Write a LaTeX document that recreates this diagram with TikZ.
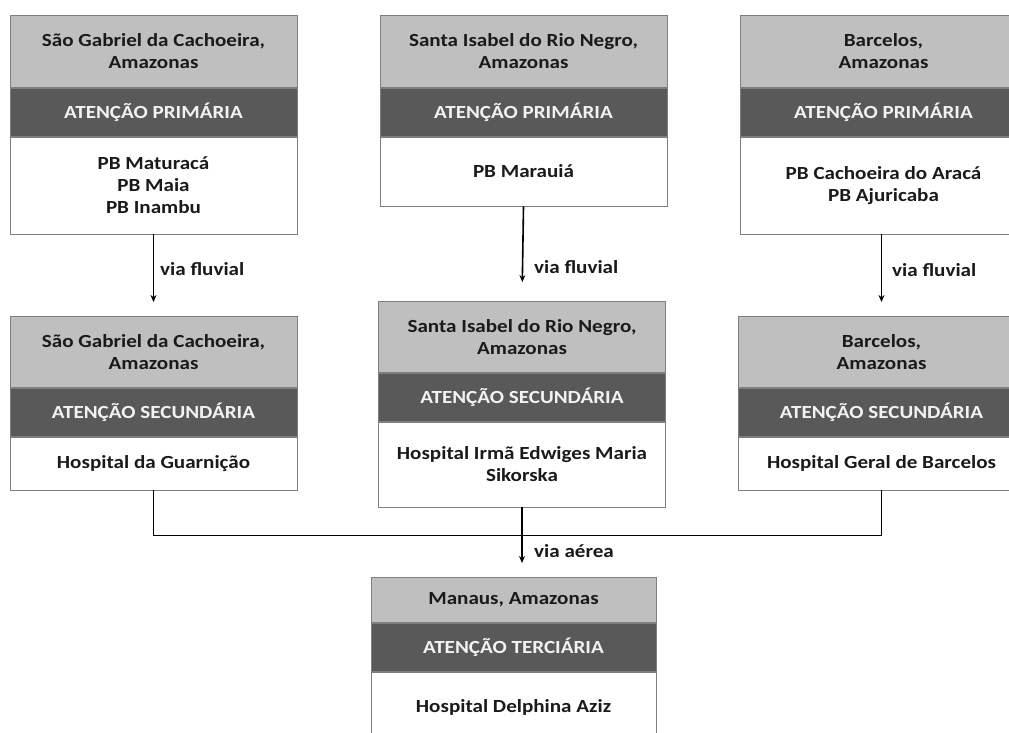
\documentclass[tikz,border=0pt]{standalone}
\usepackage{fontspec}
\setmainfont{Carlito}[FakeStretch=1.14]
\usetikzlibrary{arrows.meta}
\definecolor{lightfill}{HTML}{BFBFBF}
\definecolor{darkband}{HTML}{595959}
\definecolor{bordergray}{HTML}{7F7F7F}
\definecolor{titletext}{HTML}{1A1A1A}
\definecolor{bandtext}{HTML}{F2F2F2}
\tikzset{
  part/.style={draw=bordergray, line width=0.8pt, minimum width=287pt, inner sep=0pt,
    align=center, anchor=north, font=\fontsize{18.5}{22}\selectfont\bfseries},
  titlepart/.style={part, fill=lightfill, text=titletext},
  bandpart/.style={part, fill=darkband, text=bandtext, minimum height=48pt},
  bodypart/.style={part, fill=white, text=titletext},
  arr/.style={-{Stealth[length=7pt,width=6pt]}, line width=1.6pt, black},
  link/.style={line width=1.6pt, black},
  lab/.style={anchor=west, inner sep=0pt, text=titletext, font=\fontsize{18.5}{22}\selectfont\bfseries}
}
\begin{document}
\begin{tikzpicture}[x=1pt,y=-1pt]
\useasboundingbox (0,0) rectangle (1009,733);
\fill[white] (0,0) rectangle (1009,733);
\clip (0,0) rectangle (1009,733);

% top row
\node[titlepart, minimum height=72pt] (t1) at (153.5,15) {São Gabriel da Cachoeira,\\Amazonas};
\node[bandpart] (b1) at (t1.south) {ATENÇÃO PRIMÁRIA};
\node[bodypart, minimum height=97pt] (c1) at (b1.south) {PB Maturacá\\PB Maia\\PB Inambu};

\node[titlepart, minimum height=72pt] (t2) at (523.5,15) {Santa Isabel do Rio Negro,\\Amazonas};
\node[bandpart] (b2) at (t2.south) {ATENÇÃO PRIMÁRIA};
\node[bodypart, minimum height=69pt] (c2) at (b2.south) {PB Marauiá};

\node[titlepart, minimum height=72pt] (t3) at (883.5,15) {Barcelos,\\Amazonas};
\node[bandpart] (b3) at (t3.south) {ATENÇÃO PRIMÁRIA};
\node[bodypart, minimum height=97pt] (c3) at (b3.south) {PB Cachoeira do Aracá\\PB Ajuricaba};

% middle row
\node[titlepart, minimum height=71pt] (t4) at (153.5,316) {São Gabriel da Cachoeira,\\Amazonas};
\node[bandpart] (b4) at (t4.south) {ATENÇÃO SECUNDÁRIA};
\node[bodypart, minimum height=53pt] (c4) at (b4.south) {Hospital da Guarnição};

\node[titlepart, minimum height=71pt] (t5) at (522,301) {Santa Isabel do Rio Negro,\\Amazonas};
\node[bandpart] (b5) at (t5.south) {ATENÇÃO SECUNDÁRIA};
\node[bodypart, minimum height=85pt] (c5) at (b5.south) {Hospital Irmã Edwiges Maria\\Sikorska};

\node[titlepart, minimum height=71pt] (t6) at (881.5,316) {Barcelos,\\Amazonas};
\node[bandpart] (b6) at (t6.south) {ATENÇÃO SECUNDÁRIA};
\node[bodypart, minimum height=53pt] (c6) at (b6.south) {Hospital Geral de Barcelos};

% bottom
\node[titlepart, minimum width=285pt, minimum height=45pt] (t7) at (513.5,577) {Manaus, Amazonas};
\node[bandpart, minimum width=285pt] (b7) at (t7.south) {ATENÇÃO TERCIÁRIA};
\node[bodypart, minimum width=285pt, minimum height=70pt] (c7) at (b7.south) {Hospital Delphina Aziz};

% connectors
\draw[arr, shorten >=14pt] (c1.south) -- (t4.north);
\draw[arr, shorten >=19pt] (c2.south) -- (t5.north);
\draw[arr, shorten >=14pt] (c3.south -| t6.north) -- (t6.north);
\draw[link] (c4.south) -- ++(0,45) -| (c6.south);
\draw[arr, shorten >=14pt] (c5.south) -- (c5.south |- t7.north);

% labels
\node[lab] (l1) at (160,269) {via fluvial};
\node[lab] (l2) at (534,267) {via fluvial};
\node[lab] (l3) at (892,270) {via fluvial};
\node[lab] (l4) at (534,551) {via aérea};
\end{tikzpicture}
\end{document}
